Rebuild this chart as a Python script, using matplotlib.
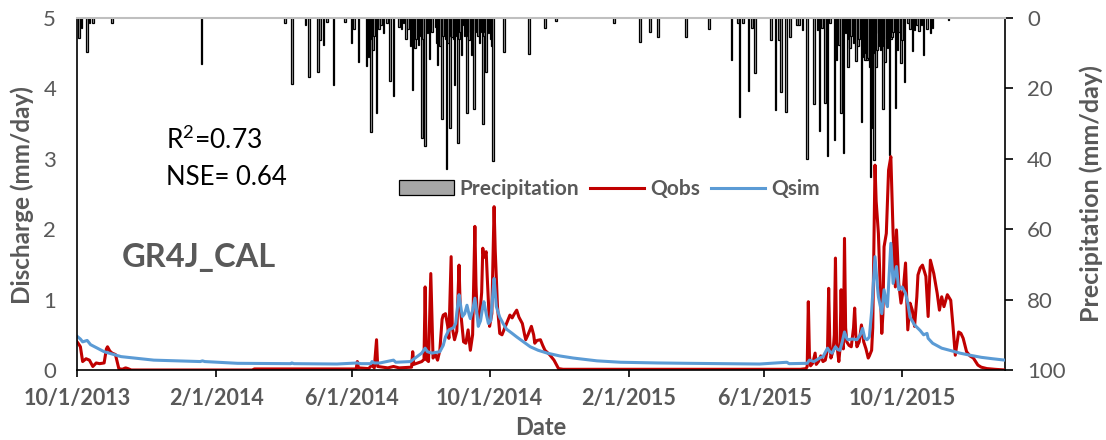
import matplotlib
matplotlib.use("Agg")
import matplotlib.pyplot as plt
import matplotlib.dates as mdates
from matplotlib.ticker import FuncFormatter, MultipleLocator
import pandas as pd

plt.rcParams['font.family'] = ['Lato', 'DejaVu Sans']
plt.rcParams['mathtext.fontset'] = 'custom'
plt.rcParams['mathtext.rm'] = 'Lato'

start_date = "2013-10-01"
end_date = "2015-12-31"

# Daily precipitation (mm/day), days counted from 10/1/2013
precip_day = [2, 4, 9, 11, 14, 31, 110, 184, 190, 202, 205, 213, 215, 218, 221, 227,
              237, 243, 245, 249, 256, 257, 258, 259, 260, 261, 262, 263, 265, 267,
              269, 271, 274, 277, 280, 285, 287, 289, 291, 293, 295, 296, 297, 299,
              300, 302, 303, 305, 306, 308, 310, 311, 312, 314, 317, 318, 319, 320,
              321, 323, 324, 325, 326, 327, 328, 330, 331, 332, 333, 334, 335, 337,
              338, 339, 340, 342, 343, 345, 346, 347, 348, 349, 350, 351, 353, 354,
              355, 356, 357, 359, 360, 361, 362, 364, 366, 367, 368, 378, 400, 414,
              424, 475, 498, 507, 514, 539, 559, 579, 585, 586, 589, 594, 597, 600,
              614, 618, 621, 623, 627, 631, 637, 639, 642, 646, 652, 655, 657, 659,
              662, 664, 666, 670, 672, 674, 676, 678, 680, 682, 683, 684, 685, 687,
              688, 689, 691, 692, 694, 696, 697, 698, 699, 700, 701, 702, 703, 704,
              705, 706, 707, 708, 709, 710, 711, 712, 713, 714, 715, 716, 717, 718,
              719, 720, 721, 722, 724, 725, 726, 727, 729, 730, 732, 735, 737, 739,
              741, 743, 745, 747, 749, 752, 755, 757, 771]
precip_mm = [5.8, 2.9, 9.6, 1.5, 1.5, 1.5, 13.2, 1.3, 18.8, 1.9, 16.7, 15.2, 6.3, 7.7, 1.0, 19.0,
             1.2, 7.2, 3.0, 12.6, 13.6, 8.0, 11.0, 7.0, 32.3, 6.0, 9.0, 5.0, 27.0, 3.0,
             2.0, 4.4, 1.5, 18.0, 22.3, 2.5, 3.2, 1.5, 6.0, 3.0, 8.0, 5.0, 20.5, 8.6,
             6.0, 7.7, 5.0, 34.0, 6.0, 36.3, 4.4, 3.0, 11.7, 3.9, 2.5, 7.0, 13.4, 6.0,
             8.0, 28.7, 5.0, 4.8, 6.0, 42.9, 7.0, 31.3, 5.0, 5.3, 6.0, 19.0, 5.0, 35.6,
             6.0, 4.0, 10.5, 2.0, 5.0, 27.0, 5.0, 6.3, 4.0, 10.5, 5.0, 25.9, 3.4, 4.0,
             5.0, 7.2, 4.0, 30.2, 5.0, 4.0, 15.2, 4.4, 6.0, 8.0, 40.5, 9.7, 10.2, 2.9,
             0.8, 1.3, 6.7, 3.9, 5.3, 5.3, 3.2, 11.9, 1.5, 28.2, 1.5, 20.7, 2.7, 15.7,
             6.3, 26.1, 6.3, 20.9, 26.7, 5.5, 1.9, 1.9, 3.4, 40.1, 24.4, 3.4, 32.0, 2.7,
             24.2, 39.2, 1.5, 34.7, 11.9, 7.7, 26.9, 38.4, 4.4, 13.8, 6.0, 8.6, 5.0, 7.2,
             5.0, 12.2, 8.0, 6.0, 29.5, 11.0, 12.0, 10.0, 12.0, 11.5, 14.0, 45.1, 31.3, 12.0,
             40.3, 10.0, 13.8, 9.0, 4.4, 8.0, 9.0, 7.0, 25.9, 8.0, 12.4, 6.0, 8.6, 7.0,
             38.9, 6.0, 5.3, 4.0, 25.7, 5.0, 9.1, 4.0, 12.9, 6.3, 18.1, 1.5, 3.0, 9.3,
             3.4, 2.0, 3.8, 1.9, 10.5, 3.0, 4.4, 2.7, 0.7]

# Observed discharge (mm/day)
qobs_day = [0, 1, 3, 5, 8, 11, 14, 17, 20, 24, 26, 27, 29, 31, 34, 37, 40, 43, 45, 48,
            155, 157, 247, 248, 249, 258, 261, 263, 265, 266, 275, 280, 285, 296, 297,
            298, 305, 307, 308, 309, 311, 313, 315, 317, 319, 321, 323, 324, 326, 328,
            329, 331, 332, 334, 336, 338, 339, 341, 342, 344, 346, 348, 350, 352, 353,
            354, 356, 358, 359, 360, 362, 363, 365, 367, 369, 370, 372, 374, 376, 379,
            381, 383, 385, 387, 389, 391, 394, 396, 397, 399, 402, 404, 405, 407, 410,
            412, 414, 418, 422, 426, 430, 640, 645, 646, 647, 648, 649, 651, 653, 654,
            656, 658, 660, 662, 664, 665, 666, 667, 669, 670, 671, 672, 674, 675, 676,
            677, 678, 679, 680, 681, 683, 685, 687, 688, 689, 690, 692, 694, 696, 698,
            700, 701, 703, 704, 706, 707, 709, 711, 712, 713, 714, 716, 718, 720, 722,
            724, 725, 727, 729, 731, 733, 735, 737, 739, 741, 743, 744, 746, 748, 751,
            753, 755, 758, 761, 763, 765, 767, 770, 773, 775, 777, 780, 782, 784, 787,
            790, 793, 797, 800, 805, 812, 821]
qobs = [0.40, 0.38, 0.33, 0.12, 0.16, 0.14, 0.05, 0.10, 0.09, 0.10, 0.30, 0.33, 0.27, 0.24, 0.22, 0.02, 0.01, 0.03, 0.02, 0.0,
        0.0, 0.015, 0.015, 0.12, 0.03, 0.02, 0.07, 0.03, 0.43, 0.05, 0.03, 0.05, 0.03, 0.04, 0.26,
        0.08, 0.12, 0.15, 1.18, 0.15, 0.12, 1.37, 0.17, 0.22, 0.14, 0.28, 0.72, 0.78, 0.80, 0.62,
        0.45, 1.61, 0.60, 0.43, 0.55, 1.49, 0.90, 0.57, 0.40, 0.38, 0.57, 0.28, 0.50, 2.04, 1.20,
        0.80, 0.70, 1.10, 1.73, 1.60, 1.68, 1.30, 0.62, 0.80, 2.32, 1.70, 0.90, 0.52, 0.50, 0.62,
        0.70, 0.78, 0.74, 0.80, 0.85, 0.75, 0.66, 0.50, 0.43, 0.50, 0.62, 0.50, 0.38, 0.42, 0.43,
        0.35, 0.28, 0.22, 0.14, 0.02, 0.01, 0.01, 0.02, 0.05, 0.97, 0.20, 0.06, 0.10, 0.24, 0.08,
        0.12, 0.20, 0.12, 0.14, 0.30, 1.16, 0.40, 0.17, 0.28, 0.50, 1.59, 0.40, 0.12, 0.30, 1.14,
        0.35, 0.30, 1.87, 0.60, 0.40, 0.35, 0.33, 0.60, 0.88, 0.50, 0.33, 0.40, 0.64, 0.40, 0.30,
        0.17, 0.20, 0.28, 0.60, 2.91, 2.40, 1.94, 1.00, 0.52, 0.80, 1.75, 1.94, 2.84, 3.03, 1.94,
        1.18, 1.99, 1.23, 0.95, 1.14, 1.52, 0.57, 0.95, 0.85, 0.62, 1.04, 1.35, 1.45, 1.49, 1.33,
        0.76, 1.56, 1.37, 1.09, 0.85, 1.04, 0.90, 1.07, 0.99, 0.62, 0.21, 0.54, 0.52, 0.45, 0.26,
        0.20, 0.17, 0.07, 0.04, 0.02, 0.01, 0.0]

# Simulated discharge (mm/day)
qsim_day = [0, 3, 5, 9, 12, 24, 39, 68, 109, 111, 113, 142, 189, 190, 192, 230, 248, 251,
            260, 261, 263, 268, 280, 282, 295, 305, 308, 310, 314, 321, 324, 326, 329, 333,
            335, 337, 338, 340, 341, 343, 345, 347, 348, 350, 352, 354, 355, 357, 359, 360,
            362, 364, 366, 368, 369, 371, 374, 377, 380, 385, 389, 395, 401, 408, 416, 427,
            439, 460, 481, 514, 540, 604, 628, 630, 646, 648, 652, 657, 660, 663, 664, 666,
            668, 670, 671, 673, 675, 677, 679, 681, 682, 686, 690, 693, 695, 697, 699, 701,
            703, 706, 708, 709, 712, 714, 716, 717, 720, 722, 725, 727, 730, 733, 735, 737,
            741, 746, 749, 752, 753, 757, 765, 772, 781, 790, 800, 810, 821]
qsim = [0.48, 0.44, 0.40, 0.42, 0.36, 0.26, 0.19, 0.14, 0.12, 0.13, 0.12, 0.095, 0.09, 0.10, 0.09, 0.085, 0.10, 0.09,
        0.09, 0.12, 0.10, 0.10, 0.14, 0.11, 0.12, 0.24, 0.31, 0.26, 0.24, 0.26, 0.35, 0.47, 0.57, 0.60,
        0.66, 0.95, 1.07, 0.85, 0.76, 0.80, 0.92, 0.78, 0.73, 0.85, 1.02, 0.78, 0.62, 0.70, 0.90, 0.97,
        0.80, 0.66, 0.70, 1.10, 1.30, 0.90, 0.75, 0.66, 0.58, 0.52, 0.47, 0.40, 0.33, 0.28, 0.24, 0.20,
        0.17, 0.13, 0.11, 0.10, 0.095, 0.085, 0.11, 0.09, 0.095, 0.14, 0.12, 0.17, 0.19, 0.28, 0.31, 0.26,
        0.24, 0.30, 0.33, 0.29, 0.28, 0.40, 0.54, 0.45, 0.43, 0.44, 0.43, 0.50, 0.59, 0.45, 0.43, 0.47,
        0.83, 1.61, 1.20, 1.04, 0.80, 1.14, 0.95, 0.90, 1.80, 1.23, 1.47, 1.14, 1.18, 1.09, 0.95, 0.75,
        0.64, 0.56, 0.50, 0.52, 0.45, 0.38, 0.31, 0.28, 0.24, 0.21, 0.18, 0.16, 0.14]

r2_text = r"R$^{\mathrm{2}}$=0.73"
nse_text = "NSE= 0.64"
model_name = "GR4J_CAL"

GRAY = "#595959"
W, H = 1106, 440


def to_dates(days):
    return pd.Timestamp(start_date) + pd.to_timedelta(days, unit="D")


fig = plt.figure(figsize=(W / 100, H / 100), dpi=100)
ax = fig.add_axes([77 / W, 1 - 370 / H, 928 / W, 352 / H])
ax2 = ax.twinx()

# Precipitation hanging from the top on the secondary axis
bars = ax2.bar(to_dates(precip_day), precip_mm, width=1.4, color="#A6A6A6",
               edgecolor="black", linewidth=0.9, label="Precipitation")
ax2.set_ylim(100, 0)
ax2.yaxis.set_major_locator(MultipleLocator(20))

ax.set_zorder(ax2.get_zorder() + 1)
ax.patch.set_visible(False)

l_obs, = ax.plot(to_dates(qobs_day), qobs, color="#C00000", lw=2.2, label="Qobs",
                 solid_joinstyle="round")
l_sim, = ax.plot(to_dates(qsim_day), qsim, color="#5B9BD5", lw=2.2, label="Qsim",
                 solid_joinstyle="round")

ax.set_xlim(pd.Timestamp(start_date), pd.Timestamp(end_date))
ax.set_ylim(0, 5)
ax.yaxis.set_major_locator(MultipleLocator(1))
ax.xaxis.set_major_locator(mdates.MonthLocator(bymonth=[2, 6, 10], bymonthday=1))
ax.xaxis.set_major_formatter(FuncFormatter(
    lambda v, _: (lambda d: f"{d.month}/{d.day}/{d.year}")(mdates.num2date(v))))

# Spines and ticks
for s in ("left", "bottom"):
    ax.spines[s].set_color("black")
    ax.spines[s].set_linewidth(1.2)
ax.spines["top"].set_color("#BFBFBF")
ax.spines["top"].set_linewidth(1.5)
ax.spines["right"].set_visible(False)
for s in ("left", "bottom", "top"):
    ax2.spines[s].set_visible(False)
ax2.spines["right"].set_color("black")
ax2.spines["right"].set_linewidth(1.2)

ax.tick_params(axis="y", length=0, pad=15, labelsize=16, labelcolor=GRAY)
ax.tick_params(axis="x", direction="out", length=5, width=1.2, pad=8,
               labelsize=15.5, labelcolor=GRAY)
for lab in ax.get_xticklabels():
    lab.set_fontweight("bold")
ax2.tick_params(axis="y", direction="out", length=6, width=1.2, pad=10,
                labelsize=16, labelcolor=GRAY)

# Axis titles
fig.text(22.5 / W, 1 - 195 / H, "Discharge (mm/day)", rotation=90, ha="center",
         va="center", fontsize=17.5, fontweight="bold", color=GRAY)
fig.text(1091 / W, 1 - 194 / H, "Precipitation (mm/day)", rotation=90, ha="center",
         va="center", fontsize=18, fontweight="bold", color=GRAY)
fig.text(541 / W, 1 - 427 / H, "Date", ha="center", va="center", fontsize=17,
         fontweight="bold", color=GRAY)

# Fit statistics and model label
fig.text(165.5 / W, 1 - 149 / H, r2_text, ha="left", va="baseline", fontsize=19,
         color="black")
fig.text(165.5 / W, 1 - 185 / H, nse_text, ha="left", va="baseline", fontsize=18.5,
         color="black")
fig.text(121.5 / W, 1 - 267 / H, model_name, ha="left", va="baseline", fontsize=23.5,
         fontweight="bold", color=GRAY)

fig.legend(handles=[bars, l_obs, l_sim], labels=["Precipitation", "Qobs", "Qsim"],
           loc="center", bbox_to_anchor=(609.5 / W, 1 - 189 / H), ncol=3,
           frameon=False, prop={"weight": "bold", "size": 15}, labelcolor=GRAY,
           handlelength=2.6, handleheight=0.7, handletextpad=0.3, columnspacing=0.5)

fig.savefig("out.png", dpi=100)
